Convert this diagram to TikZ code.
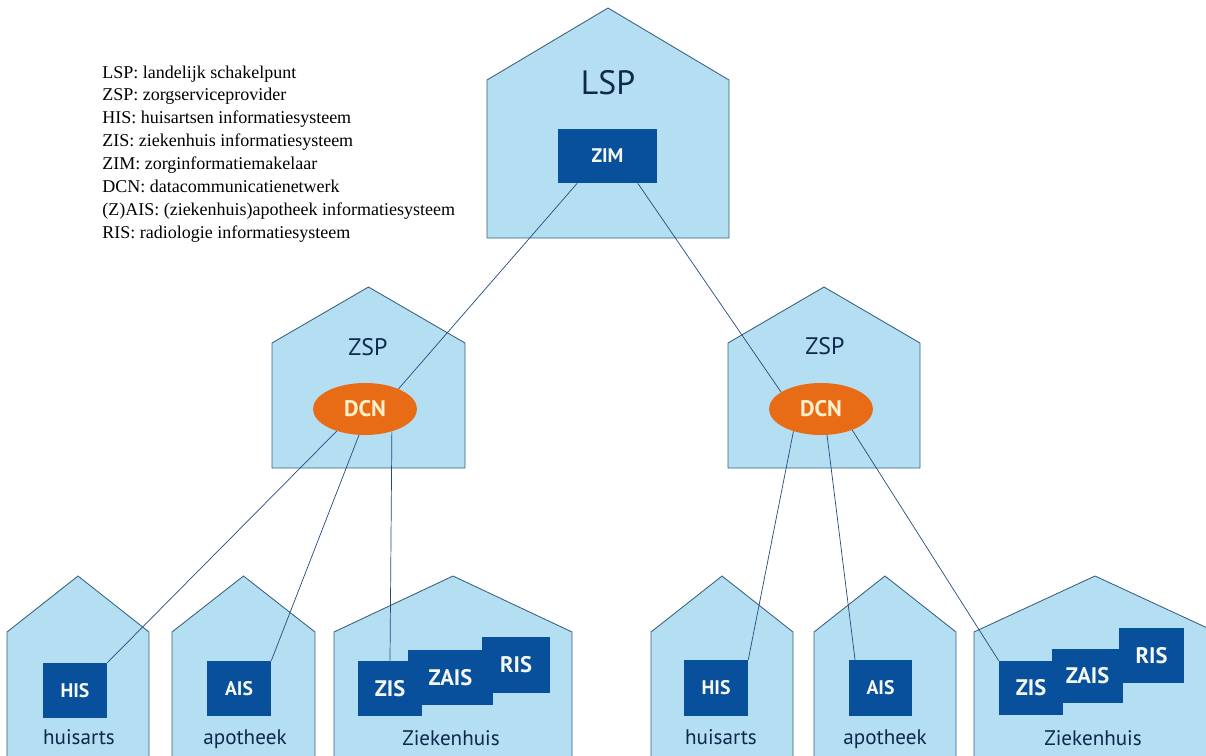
\documentclass[tikz,border=0pt]{standalone}
\usepackage{fontspec}
\setmainfont{Liberation Serif}
\newfontfamily\housefont{PT Sans}
\usetikzlibrary{shapes.geometric,calc}
\definecolor{housefill}{RGB}{180,222,242}
\definecolor{houseline}{RGB}{55,95,125}
\definecolor{boxblue}{RGB}{8,80,155}
\definecolor{dcnorange}{RGB}{232,108,22}
\definecolor{navytext}{RGB}{15,40,75}
\definecolor{linkblue}{RGB}{35,75,125}

\begin{document}
\begin{tikzpicture}[x=0.025cm, y=-0.025cm,
  house/.style={fill=housefill, draw=houseline, line width=0.6pt, line join=miter},
  houselabel/.style={font=\housefont\fontsize{15}{17}\selectfont, text=navytext, inner sep=0pt},
  sysbox/.style={fill=boxblue, draw=none, minimum width=1.6cm, minimum height=1.375cm, inner sep=0pt,
    font=\housefont\bfseries\fontsize{14}{16}\selectfont, text={rgb,255:red,245;green,248;blue,240}},
  bigsys/.style={sysbox, font=\housefont\bfseries\fontsize{16}{18}\selectfont},
  dcn/.style={ellipse, fill=dcnorange, draw=none, minimum width=2.6cm, minimum height=1.3cm, inner sep=0pt,
    font=\housefont\bfseries\fontsize{16}{18}\selectfont, text={rgb,255:red,255;green,240;blue,205}},
  link/.style={draw=linkblue, line width=0.5pt},
  legend/.style={font=\fontsize{12.8}{15}\selectfont, inner sep=0pt, anchor=base west}]
\clip (0,0) rectangle (1206,756);

% houses: left/right/apex/roof/bottom
\foreach \l/\r/\t/\h/\b in {487/729/8/72/238, 272/465/287/56/468, 728/920/287/56/468,
  7/149/576/56/780, 172/315/576/56/780, 334/572/576/56/780,
  651/793/576/56/780, 814/956/576/56/780, 974/1216/576/56/780} {
  \draw[house] (\l,\b) -- (\l,\t+\h) -- ({(\l+\r)/2},\t) -- (\r,\t+\h) -- (\r,\b) -- cycle;
}

% legend
\foreach \i/\txt in {0/{LSP: landelijk schakelpunt}, 1/{ZSP: zorgserviceprovider},
  2/{HIS: huisartsen informatiesysteem}, 3/{ZIS: ziekenhuis informatiesysteem},
  4/{ZIM: zorginformatiemakelaar}, 5/{DCN: datacommunicatienetwerk},
  6/{(Z)AIS: (ziekenhuis)apotheek informatiesysteem}, 7/{RIS: radiologie informatiesysteem}} {
  \node[legend] (leg\i) at (102,78+22.86*\i) {\txt};
}

% house names
\node[houselabel, font=\housefont\fontsize{24}{26}\selectfont] (lsp) at (608,83) {LSP};
\node[houselabel, font=\housefont\fontsize{17}{19}\selectfont] (zspL) at (368,347) {ZSP};
\node[houselabel, font=\housefont\fontsize{17}{19}\selectfont] (zspR) at (825,346) {ZSP};
\node[houselabel, anchor=base] (huisL) at (79,744) {huisarts};
\node[houselabel, anchor=base] (apoL) at (245,744) {apotheek};
\node[houselabel, anchor=base] (zhL) at (451,745) {Ziekenhuis};
\node[houselabel, anchor=base] (huisR) at (721,744) {huisarts};
\node[houselabel, anchor=base] (apoR) at (885,744) {apotheek};
\node[houselabel, anchor=base] (zhR) at (1093,745) {Ziekenhuis};

% systems
\node[sysbox, minimum width=2.475cm, minimum height=1.35cm] (zim) at (607.5,156) {ZIM};
\node[dcn] (dcnL) at (365,409) {DCN};
\node[dcn] (dcnR) at (821,409) {DCN};

\node[sysbox] (hisL) at (75,690.5) {HIS};
\node[sysbox] (aisL) at (239,688.5) {AIS};
\node[bigsys] (zisL) at (390,688.5) {ZIS};
\node[bigsys, minimum width=2.125cm] (zaisL) at (450.5,677.5) {ZAIS};
\node[bigsys, minimum width=1.7cm, minimum height=1.4cm] (risL) at (516,665) {RIS};

\node[sysbox, minimum height=1.4cm] (hisR) at (716,688) {HIS};
\node[sysbox, minimum width=1.575cm, minimum height=1.4cm] (aisR) at (880.5,688) {AIS};
\node[bigsys, minimum height=1.35cm] (zisR) at (1031,688) {ZIS};
\node[bigsys, minimum width=1.775cm, minimum height=1.35cm] (zaisR) at (1087.5,676) {ZAIS};
\node[bigsys, minimum width=1.625cm] (risR) at (1151.5,655.5) {RIS};

% connections
\draw[link] (zim.-138) -- (dcnL.31);
\draw[link] (zim.-42) -- (dcnR.157);
\draw[link] (dcnL.-142) -- (hisL.north east);
\draw[link] (dcnL.-103) -- (aisL.north east);
\draw[link] (dcnL.-40) -- (zisL.north);
\draw[link] (dcnR.-141) -- (hisR.north east);
\draw[link] (dcnR.-77) -- (aisR.132);
\draw[link] (dcnR.-34) -- (zisR.north west);
\end{tikzpicture}
\end{document}
